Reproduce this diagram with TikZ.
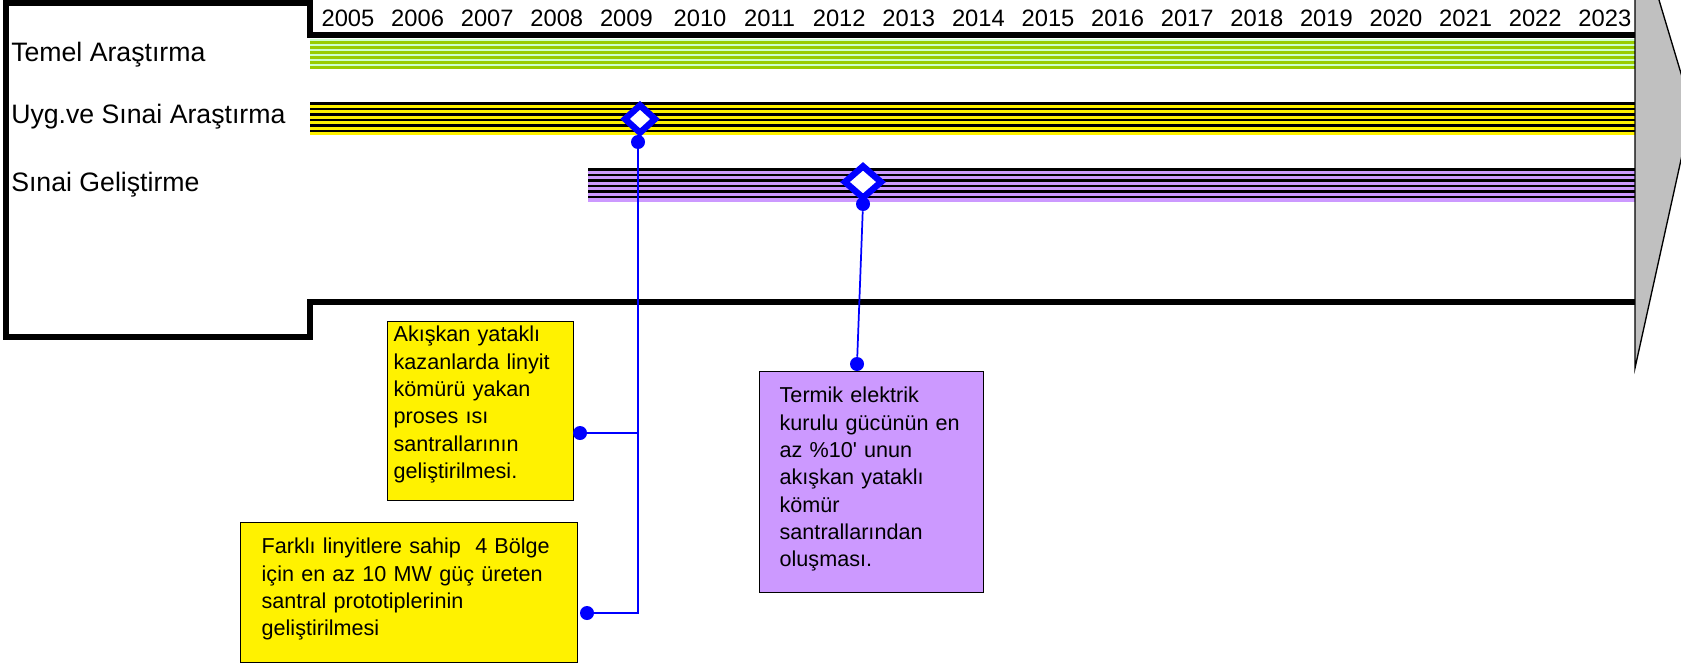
\documentclass[tikz,border=0pt]{standalone}
\usepackage{fontspec}
\setmainfont{Liberation Sans}
\usetikzlibrary{shapes.geometric}

\definecolor{lightgreen}{HTML}{CCFFCC}
\definecolor{grassgreen}{HTML}{99CC00}
\definecolor{lilac}{HTML}{CC99FF}
\definecolor{arrowgrey}{HTML}{C0C0C0}

\tikzset{
  timeframe/.style={line width=4.5pt, line join=miter},
  rowlabel/.style={anchor=base west, inner sep=0pt, font=\fontsize{20pt}{24pt}\selectfont},
  yearlabel/.style={anchor=base, inner sep=0pt, font=\fontsize{17.8pt}{21pt}\selectfont},
  milestone/.style={diamond, draw=blue, fill=white, line width=4.8pt, inner sep=0pt},
  blob/.style={circle, fill=blue, inner sep=0pt, minimum size=10.5pt},
  link/.style={blue, line width=1.3pt},
  note/.style={anchor=north west, draw, line width=1pt, align=left,
    font=\fontsize{16.2pt}{20.5pt}\selectfont}
}

\begin{document}
\begin{tikzpicture}[x=0.75pt, y=-0.75pt]
  \useasboundingbox (0,0) rectangle (1681,664);
  \clip (0,0) rectangle (1681,664);

  % outline of the chart area
  \draw[timeframe] (1635,35) -- (310,35) -- (310,3) -- (6,3) -- (6,337)
    -- (310,337) -- (310,302) -- (1635,302);

  % striped bars
  \fill[lightgreen] (310,39) rectangle (1635,69);
  \foreach \k in {0,...,5}
    \fill[grassgreen] (310,41+5*\k) rectangle (1635,43.6+5*\k);

  \fill[yellow] (310,102) rectangle (1635,135);
  \foreach \k in {0,...,5}
    \fill[black] (310,102+5.5*\k) rectangle (1635,104.8+5.5*\k);

  \fill[lilac] (588,168) rectangle (1635,202);
  \foreach \k in {0,...,5}
    \fill[black] (588,168+5.5*\k) rectangle (1635,170.8+5.5*\k);

  % big arrow on the right
  \filldraw[fill=arrowgrey, draw=black, line width=1pt]
    (1635,-80) -- (1692,110) -- (1635,368) -- cycle;

  % years
  \foreach \yr [count=\i from 0] in {2005,...,2023} {
    \pgfmathsetmacro{\xx}{348+69.6*\i+4*(\i>4)}
    \node[yearlabel] (y\yr) at (\xx,26.5) {\yr};
  }

  \node[rowlabel] (temel) at (11,61) {Temel Araştırma};
  \node[rowlabel] (uyg) at (11,123) {Uyg.ve Sınai Araştırma};
  \node[rowlabel] (sinai) at (11,191) {Sınai Geliştirme};

  % notes
  \node[note, fill=yellow, inner xsep=4.5pt, inner ysep=3.3pt, text width=130.5pt]
    (b1) at (387,321) {Akışkan yataklı\\ kazanlarda linyit\\ kömürü yakan\\
    proses ısı\\ santrallarının\\ geliştirilmesi.\rule[-13.5pt]{0pt}{0pt}};
  \node[note, fill=yellow, inner xsep=15.75pt, inner ysep=11.55pt, text width=221.25pt]
    (b2) at (240,522) {Farklı linyitlere sahip~ 4 Bölge\\ için en az 10 MW güç üreten\\
    santral prototiplerinin\\ geliştirilmesi\rule[-8.7pt]{0pt}{0pt}};
  \node[note, fill=lilac, inner xsep=15pt, inner ysep=11.55pt, text width=138pt]
    (b3) at (759,371) {Termik elektrik\\ kurulu gücünün en\\ az \%10\textquotesingle{} unun\\
    akışkan yataklı\\ kömür\\ santrallarından\\ oluşması.\rule[-7.95pt]{0pt}{0pt}};

  \node[blob] (p1) at (638,142) {};
  \node[blob] (p2) at (863,204) {};
  \node[blob] (q1) at (580,433) {};
  \node[blob] (q2) at (587,613) {};
  \node[blob] (q3) at (857,364) {};

  \draw[link] (p1) -- (p1 |- q2) -- (q2);
  \draw[link] (q1) -- (p1 |- q1);
  \draw[link] (p2) -- (q3);

  \node[milestone, minimum width=24.5pt, minimum height=22.5pt] (ms1) at (640,119) {};
  \node[milestone, minimum width=29pt, minimum height=25.5pt] (ms2) at (863,182) {};
\end{tikzpicture}
\end{document}
